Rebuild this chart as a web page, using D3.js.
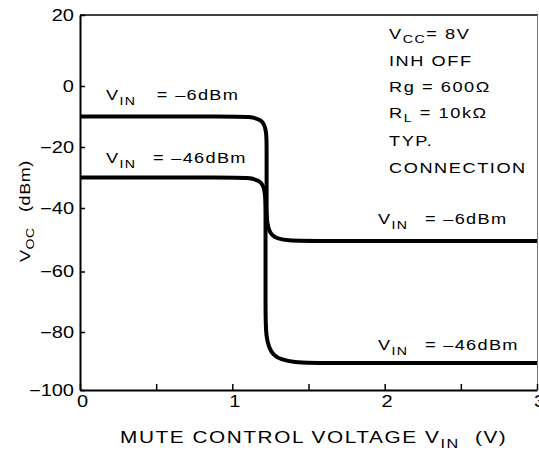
<!DOCTYPE html>
<html>
<head>
<meta charset="utf-8">
<script src="https://cdn.jsdelivr.net/npm/d3@7"></script>
<style>
  html, body { margin: 0; padding: 0; background: #fff; }
  svg { display: block; }
  text { font-family: "Liberation Sans", Arial, Helvetica, sans-serif; fill: #000; white-space: pre; }
</style>
</head>
<body>
<svg id="chart" width="539" height="452"></svg>
<script>
// ---- data ----
const xTicks = [0, 0.5, 1, 1.5, 2, 2.5, 3];
const xTickLabels = ["0", "", "1", "", "2", "", "3"];
const yTicks = [-100, -80, -60, -40, -20, 0, 20];
const yTickLabels = ["−100", "−80", "−60", "−40", "−20", "0", "20"];

// V_IN = -6dBm trace (mute control voltage V, output dBm)
const upperX = [0, 1.029, 1.225, 1.225, 1.225, 1.225, 1.455, 3];
const upperY = [-10, -10, -10, -19.7, -39.3, -50.4, -50.4, -50.4];
// V_IN = -46dBm trace
const lowerX = [0, 1.021, 1.218, 1.218, 1.218, 1.218, 1.546, 3];
const lowerY = [-30, -30, -30, -39.7, -73.7, -90.7, -90.7, -90.7];

const curveLabels = [
  [{t: "V"}, {t: "IN", sub: true}, {t: " = –6dBm", dx: 11}],
  [{t: "V"}, {t: "IN", sub: true}, {t: " = –46dBm", dx: 8}],
  [{t: "V"}, {t: "IN", sub: true}, {t: " = –6dBm", dx: 8}],
  [{t: "V"}, {t: "IN", sub: true}, {t: " = –46dBm", dx: 8}]
];
const conditions = [
  [{t: "V"}, {t: "CC", sub: true}, {t: "= 8V"}],
  [{t: "INH OFF"}],
  [{t: "Rg = 600Ω"}],
  [{t: "R"}, {t: "L", sub: true}, {t: " = 10kΩ"}],
  [{t: "TYP."}],
  [{t: "CONNECTION"}]
];
const xTitle = [{t: "MUTE CONTROL VOLTAGE V"}, {t: "IN", sub: true}, {t: " (V)", dx: 6}];
const yTitle = [{t: "V"}, {t: "OC", sub: true}, {t: " (dBm)", dx: 8}];

// ---- layout ----
const svg = d3.select("#chart");
const x = d3.scaleLinear().domain([0, 3]).range([80, 537]);
const y = d3.scaleLinear().domain(yTicks).range([390, 332, 271.5, 208, 147, 86, 15]);

function addText(g, px, py, parts, o) {
  const t = g.append("text")
    .attr("transform", `translate(${px},${py})` + (o.rotate ? ` rotate(${o.rotate})` : "") + ` scale(${o.sx},1)`)
    .attr("font-size", o.size)
    .attr("letter-spacing", o.ls || 0)
    .attr("text-anchor", o.anchor || "start");
  let shifted = false;
  const sh = o.subShift || 5;
  parts.forEach(p => {
    const ts = t.append("tspan").text(p.t);
    if (p.sub) {
      ts.attr("font-size", o.size * 0.78);
      if (!shifted) { ts.attr("dy", sh); shifted = true; }
    } else if (shifted) {
      ts.attr("dy", -sh); shifted = false;
    }
    if (p.dx) ts.attr("dx", p.dx);
  });
  return t;
}

// frame (top and right)
svg.append("line").attr("x1", x(0)).attr("x2", x(3) + 1).attr("y1", y(20)).attr("y2", y(20))
  .attr("stroke", "#000").attr("stroke-width", 1.5);
svg.append("line").attr("x1", x(3) + 0.5).attr("x2", x(3) + 0.5).attr("y1", y(20)).attr("y2", y(-100))
  .attr("stroke", "#777").attr("stroke-width", 1);

// axes
const yAxis = svg.append("g").attr("transform", `translate(${x(0)},0)`)
  .call(d3.axisLeft(y).tickValues(yTicks).tickSize(-5).tickSizeOuter(0).tickPadding(6)
    .tickFormat((d, i) => yTickLabels[i]));
const xAxis = svg.append("g").attr("transform", `translate(0,${y(-100)})`)
  .call(d3.axisBottom(x).tickValues(xTicks).tickSize(-6).tickSizeOuter(0).tickPadding(6)
    .tickFormat((d, i) => xTickLabels[i]));

[yAxis, xAxis].forEach(a => {
  a.select(".domain").attr("stroke", "#000").attr("stroke-width", 2);
  a.selectAll(".tick line").attr("stroke", "#000").attr("stroke-width", 1.5);
  a.selectAll(".tick text").attr("fill", "#000").attr("font-size", 16)
    .attr("font-family", "Liberation Sans, Arial, sans-serif");
});
yAxis.selectAll(".tick text").each(function () {
  const t = d3.select(this);
  t.attr("transform", `translate(${t.attr("x")},0) scale(1.25,1)`).attr("x", 0);
});
xAxis.selectAll(".tick text").each(function () {
  const t = d3.select(this);
  t.attr("transform", `translate(2,${t.attr("y")}) scale(1.25,1)`).attr("y", 0);
});

// curves
const line = d3.line().x(d => x(d[0])).y(d => y(d[1])).curve(d3.curveBasis);
[[upperX, upperY], [lowerX, lowerY]].forEach(([xs, ys]) => {
  svg.append("path")
    .attr("d", line(xs.map((v, i) => [v, ys[i]])))
    .attr("fill", "none").attr("stroke", "#000").attr("stroke-width", 4)
    .attr("stroke-linejoin", "round");
});

// curve labels
const labelPos = [[106, 100], [106, 163], [378, 224], [378, 350]];
curveLabels.forEach((parts, i) => {
  addText(svg, labelPos[i][0], labelPos[i][1], parts, {size: 14, sx: 1.3, ls: 1, subShift: 5});
});

// conditions block
const condY = [39, 66, 92, 118, 146, 173];
conditions.forEach((parts, i) => {
  addText(svg, 389, condY[i], parts, {size: 14, sx: 1.3, ls: 1.2, subShift: 4});
});

// axis titles
addText(svg, 120, 443, xTitle, {size: 16, sx: 1.3, ls: 1.2, subShift: 5});
addText(svg, 30, 262, yTitle, {size: 15, sx: 1.2, ls: 0.5, rotate: -90, subShift: 4});
</script>
</body>
</html>
